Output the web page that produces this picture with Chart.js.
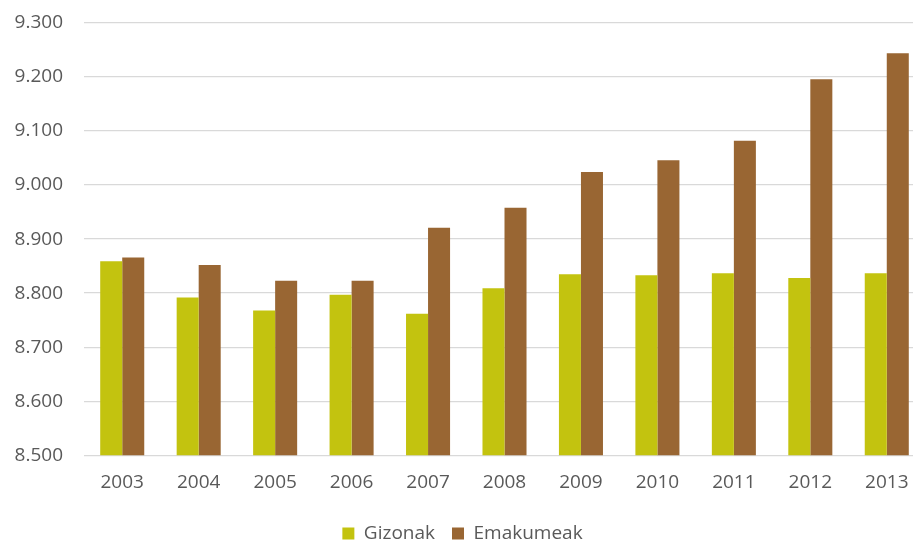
<!DOCTYPE html>
<html>
<head>
<meta charset="utf-8">
<script src="https://cdn.jsdelivr.net/npm/chart.js@4"></script>
<style>
  html, body { margin: 0; padding: 0; background: #fff; overflow: hidden; }
  #wrap { width: 913px; height: 546px; overflow: hidden; }
</style>
</head>
<body>
<div id="wrap">
  <canvas id="chart" width="925" height="546" style="width:925px;height:546px"></canvas>
</div>
<script>
const years = ["2003", "2004", "2005", "2006", "2007", "2008", "2009", "2010", "2011", "2012", "2013"];
const gizonak = [8859, 8792, 8768, 8797, 8762, 8809, 8835, 8833, 8837, 8828, 8837];
const emakumeak = [8866, 8852, 8823, 8823, 8921, 8958, 9024, 9046, 9082, 9196, 9244];
const yMin = 8500;
const yMax = 9300;

const fmt = (v) => Math.floor(v / 1000) + "." + String(v % 1000).padStart(3, "0");

// legend sits lower and closer to the axis labels than Chart.js would put it
const legendTweak = {
  id: "legendTweak",
  afterInit(chart) {
    const legend = chart.legend;
    const fit = legend.fit.bind(legend);
    legend.fit = function () {
      fit();
      this.height -= 10;
    };
  },
  afterLayout(chart) {
    chart.legend.top -= 3;
    chart.legend.bottom -= 3;
  },
};

const ctx = document.getElementById("chart").getContext("2d");
new Chart(ctx, {
  type: "bar",
  data: {
    labels: years,
    datasets: [
      {
        label: "Gizonak",
        data: gizonak,
        backgroundColor: "#c3c30f",
        borderWidth: 0,
      },
      {
        label: "Emakumeak",
        data: emakumeak,
        backgroundColor: "#996633",
        borderWidth: 0,
      },
    ],
  },
  options: {
    responsive: false,
    animation: false,
    layout: { padding: { top: 23, left: 0, right: 0, bottom: 0 } },
    datasets: {
      bar: { categoryPercentage: 0.576, barPercentage: 1.0 },
    },
    scales: {
      x: {
        grid: { display: false, drawTicks: false },
        border: { display: false },
        ticks: {
          color: "#595959",
          font: { family: "'Open Sans', 'Noto Sans', sans-serif", size: 19 },
          padding: 16,
        },
      },
      y: {
        min: yMin,
        max: yMax,
        afterFit: (scale) => {
          scale.width = 84;
          scale.paddingTop = 0;
          scale.paddingBottom = 0;
        },
        grid: { color: "#d9d9d9", lineWidth: 1.3, drawTicks: false },
        border: { display: false },
        ticks: {
          stepSize: 100,
          color: "#595959",
          padding: 21,
          font: { family: "'Open Sans', 'Noto Sans', sans-serif", size: 19 },
          callback: (v) => fmt(v),
        },
      },
    },
    plugins: {
      legend: {
        position: "bottom",
        labels: {
          color: "#595959",
          boxWidth: 12,
          boxHeight: 12,
          padding: 17,
          font: { family: "'Open Sans', 'Noto Sans', sans-serif", size: 19 },
        },
      },
      tooltip: { enabled: false },
    },
  },
  plugins: [legendTweak],
});
</script>
</body>
</html>
